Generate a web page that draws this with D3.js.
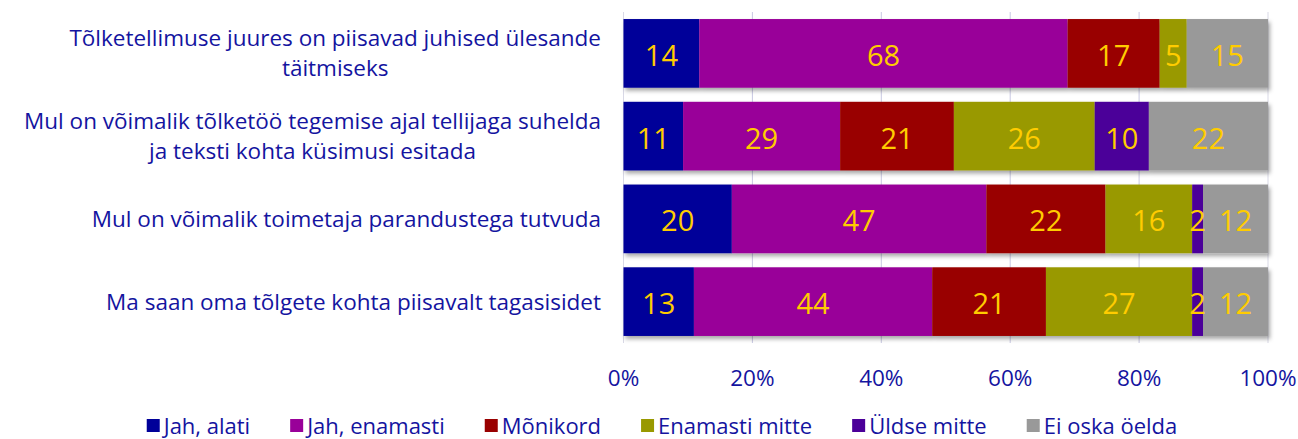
<html lang='et'>
<head>
<meta charset='UTF-8' />
<script src='https://d3js.org/d3.v7.min.js'></script>
<style>
  body { margin: 0; background: #fff; }
  text { font-family: 'Open Sans', 'Noto Sans', sans-serif; }
  .cat-label { font-size: 22.5px; fill: #1414a0; text-anchor: middle; }
  .tick-label { font-size: 22.5px; fill: #1414a0; text-anchor: middle; }
  .val-label { font-size: 29px; fill: #ffcc00; text-anchor: middle; dominant-baseline: central; }
  .legend-text { font-size: 22px; fill: #1414a0; dominant-baseline: central; }
</style>
<title>Tagasiside</title>
</head>
<body>
<div id='chart'></div>
<script>
// statements (each line break = new tspan)
const categories = [
  ["Tõlketellimuse juures on piisavad juhised ülesande", "täitmiseks"],
  ["Mul on võimalik tõlketöö tegemise ajal tellijaga suhelda", "ja teksti kohta küsimusi esitada"],
  ["Mul on võimalik toimetaja parandustega tutvuda"],
  ["Ma saan oma tõlgete kohta piisavalt tagasisidet"]
];
const seriesNames = ["Jah, alati", "Jah, enamasti", "Mõnikord", "Enamasti mitte", "Üldse mitte", "Ei oska öelda"];
const seriesColors = ["#000099", "#990099", "#990000", "#999900", "#4b0099", "#999999"];

// counts per statement, in series order
const jahAlati      = [14, 11, 20, 13];
const jahEnamasti   = [68, 29, 47, 44];
const monikord      = [17, 21, 22, 21];
const enamastiMitte = [5, 26, 16, 27];
const uldseMitte    = [0, 10, 2, 2];
const eiOska        = [15, 22, 12, 12];
const tickValues = [0, 0.2, 0.4, 0.6, 0.8, 1];

const series = [jahAlati, jahEnamasti, monikord, enamastiMitte, uldseMitte, eiOska];

const width = 1298, height = 439;
const plot = { left: 623.5, right: 1268, top: 12, bottom: 343 };

const svg = d3.select("#chart").append("svg")
  .attr("width", width).attr("height", height);

const defs = svg.append("defs");
defs.append("filter").attr("id", "shadow")
  .attr("x", "-5%").attr("y", "-10%").attr("width", "115%").attr("height", "140%")
  .append("feDropShadow")
  .attr("dx", 2).attr("dy", 3).attr("stdDeviation", 2.2)
  .attr("flood-color", "#000").attr("flood-opacity", 0.35);

const x = d3.scaleLinear().domain([0, 1]).range([plot.left, plot.right]);
const y = d3.scaleBand().domain(d3.range(categories.length))
  .range([plot.top, plot.bottom]).paddingInner(0.17).paddingOuter(0.085);

// gridlines
svg.append("g").selectAll("line").data(tickValues).join("line")
  .attr("x1", d => x(d)).attr("x2", d => x(d))
  .attr("y1", plot.top).attr("y2", plot.bottom)
  .attr("stroke", d => (d === 0 || d === 1) ? "#d9d9e6" : "#c8c8e2")
  .attr("stroke-width", 1);

// stack data
const rows = categories.map((c, i) => {
  const total = d3.sum(series, s => s[i]);
  let acc = 0;
  return series.map((s, k) => {
    const seg = { row: i, k, value: s[i], x0: acc / total, x1: (acc + s[i]) / total };
    acc += s[i];
    return seg;
  });
});

const gRows = svg.append("g").selectAll("g").data(rows).join("g");

gRows.append("g").attr("filter", "url(#shadow)")
  .selectAll("rect").data(d => d.filter(s => s.value > 0)).join("rect")
  .attr("x", d => x(d.x0))
  .attr("y", d => y(d.row))
  .attr("width", d => x(d.x1) - x(d.x0))
  .attr("height", y.bandwidth())
  .attr("fill", d => seriesColors[d.k]);

gRows.selectAll("text.val-label").data(d => d.filter(s => s.value > 0)).join("text")
  .attr("class", "val-label")
  .attr("x", d => (x(d.x0) + x(d.x1)) / 2)
  .attr("y", d => y(d.row) + y.bandwidth() / 2 + 1)
  .text(d => d.value);

// category labels
const catG = svg.append("g");
categories.forEach((lines, i) => {
  const t = catG.append("text").attr("class", "cat-label");
  const cy = y(i) + y.bandwidth() / 2;
  const lh = 30;
  lines.forEach((ln, j) => {
    t.append("tspan").attr("y", cy + (j - (lines.length - 1) / 2) * lh + 8).text(ln);
  });
  // right-align the whole block at x=601, lines centered on each other
  const w = d3.max(t.selectAll("tspan").nodes(), n => n.getComputedTextLength());
  t.selectAll("tspan").attr("x", 601 - w / 2);
});

// x axis tick labels
svg.append("g").selectAll("text").data(tickValues).join("text")
  .attr("class", "tick-label")
  .attr("x", d => x(d)).attr("y", 386)
  .text(d => d3.format(".0%")(d));

// legend
const legend = svg.append("g");
const items = legend.selectAll("g").data(seriesNames).join("g");
items.append("rect").attr("width", 13).attr("height", 13).attr("y", -6)
  .attr("fill", (d, i) => seriesColors[i]);
items.append("text").attr("class", "legend-text").attr("x", 17).attr("y", 0).text(d => d);
let lx = 0;
items.each(function () {
  const g = d3.select(this);
  g.attr("transform", `translate(${lx},0)`);
  lx += 17 + g.select("text").node().getComputedTextLength() + 40;
});
const legendW = lx - 40;
legend.attr("transform", `translate(${(140 + 1184) / 2 - legendW / 2},425)`);
</script>
</body>
</html>
